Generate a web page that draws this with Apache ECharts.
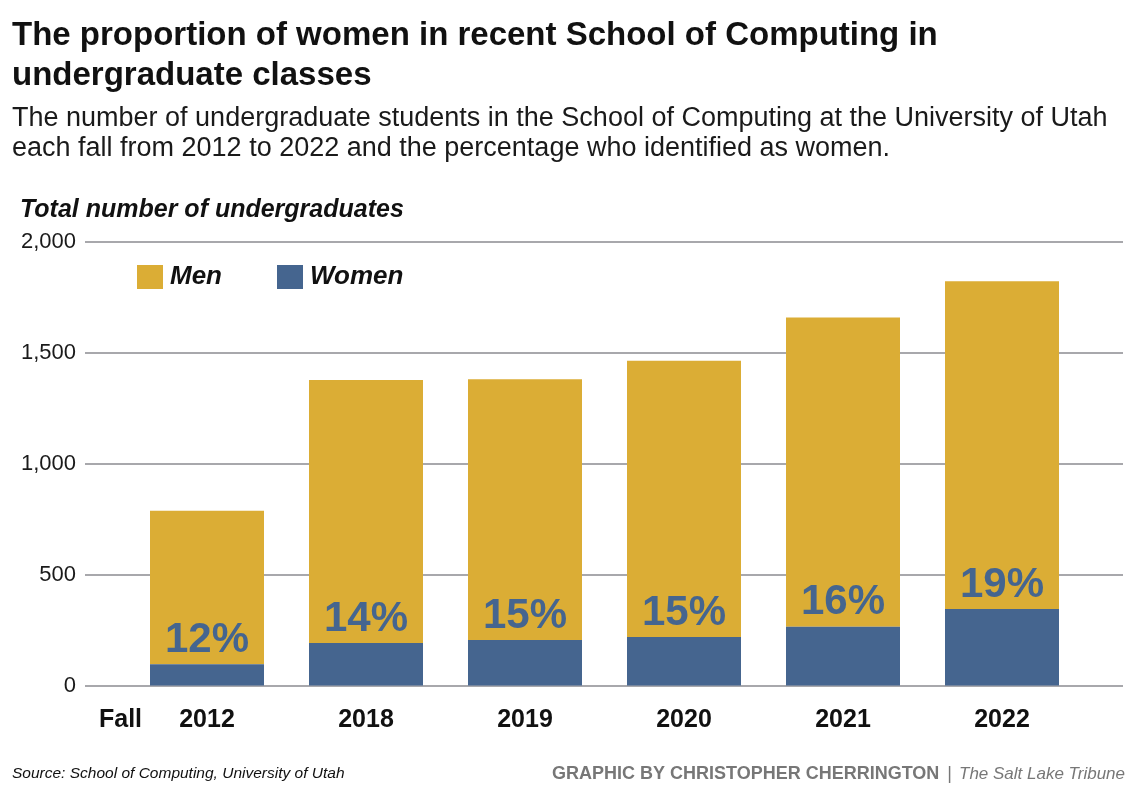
<!DOCTYPE html>
<html>
<head>
<meta charset="utf-8">
<script src="https://cdn.jsdelivr.net/npm/echarts@6/dist/echarts.min.js"></script>
<style>
  html, body { margin: 0; padding: 0; background: #ffffff; }
  #chart { width: 1137px; height: 798px; }
</style>
</head>
<body>
<div id="chart"></div>
<script>
// ---- Data ----
const years = ['2012', '2018', '2019', '2020', '2021', '2022'];
const women = [96, 192, 205, 219, 265, 345];
const men = [692, 1186, 1176, 1246, 1394, 1478];
const pctWomen = [12, 14, 15, 15, 16, 19];
const yTicks = [0, 500, 1000, 1500, 2000];

const GOLD = '#dbad35';
const BLUE = '#45658f';
const GRID_LINE = '#a8a8ac';
const SANS = '"Liberation Sans", Arial, sans-serif';

const chart = echarts.init(document.getElementById('chart'), null, { renderer: 'canvas' });

const option = {
  backgroundColor: '#ffffff',
  animation: false,
  title: [
    {
      text: 'The proportion of women in recent School of Computing in\nundergraduate classes',
      left: 12, top: 16, padding: 0,
      textStyle: { fontFamily: SANS, fontWeight: 'bold', fontSize: 33, lineHeight: 40, color: '#111111' }
    },
    {
      text: 'The number of undergraduate students in the School of Computing at the University of Utah\neach fall from 2012 to 2022 and the percentage who identified as women.',
      left: 12, top: 104, padding: 0,
      textStyle: { fontFamily: SANS, fontWeight: 'normal', fontSize: 27, lineHeight: 30, color: '#1a1a1a' }
    },
    {
      text: 'Total number of undergraduates',
      left: 20, top: 198, padding: 0,
      textStyle: { fontFamily: SANS, fontWeight: 'bold', fontStyle: 'italic', fontSize: 25, color: '#111111' }
    }
  ],
  legend: {
    data: ['Men', 'Women'],
    left: 137, top: 264, padding: 0,
    itemWidth: 26, itemHeight: 24, itemGap: 55,
    icon: 'rect',
    textStyle: { fontFamily: SANS, fontWeight: 'bold', fontStyle: 'italic', fontSize: 26, color: '#111111', padding: [0, 0, 0, 2] },
    selectedMode: false
  },
  grid: [
    { left: 127.5, right: 55.5, top: 242, bottom: 112.5, containLabel: false },
    { left: 85, right: 14, top: 242, bottom: 112.5, containLabel: false }
  ],
  xAxis: [
    {
      type: 'category', gridIndex: 0, data: years,
      axisLine: { show: false }, axisTick: { show: false },
      axisLabel: { fontFamily: SANS, fontWeight: 'bold', fontSize: 25, color: '#111111', margin: 22 }
    },
    {
      type: 'category', gridIndex: 1, data: [], show: false
    }
  ],
  yAxis: [
    {
      type: 'value', gridIndex: 0, min: 0, max: 2000, interval: 500, show: false,
      splitLine: { show: false }
    },
    {
      type: 'value', gridIndex: 1, min: 0, max: 2000, interval: 500, z: 0,
      axisLine: { show: false }, axisTick: { show: false },
      axisLabel: {
        fontFamily: SANS, fontSize: 22, color: '#1a1a1a', margin: 9,
        formatter: function (v) { return yTicks.indexOf(v) >= 0 ? v.toLocaleString('en-US') : ''; }
      },
      splitLine: { show: true, lineStyle: { color: GRID_LINE, width: 2 } }
    }
  ],
  series: [
    {
      name: 'Women', type: 'bar', stack: 'total', xAxisIndex: 0, yAxisIndex: 0,
      data: women, barWidth: 114, itemStyle: { color: BLUE }, z: 3,
      label: {
        show: true, position: 'top', distance: 3,
        fontFamily: SANS, fontWeight: 'bold', fontSize: 42, color: BLUE,
        formatter: function (p) { return pctWomen[p.dataIndex] + '%'; }
      }
    },
    {
      name: 'Men', type: 'bar', stack: 'total', xAxisIndex: 0, yAxisIndex: 0,
      data: men, barWidth: 114, itemStyle: { color: GOLD }, z: 2
    }
  ],
  graphic: [
    {
      type: 'text', left: 99, top: 708,
      style: { text: 'Fall', font: 'bold 25px ' + SANS, fill: '#111111' }
    },
    {
      type: 'text', left: 12, top: 766,
      style: { text: 'Source: School of Computing, University of Utah', font: 'italic 15.5px ' + SANS, fill: '#111111' }
    },
    {
      type: 'text', right: 12, top: 765,
      style: {
        rich: {
          a: { font: 'bold 18px ' + SANS, fill: '#777777' },
          b: { font: '18px ' + SANS, fill: '#777777', padding: [0, 7, 0, 8] },
          c: { font: 'italic 17px ' + SANS, fill: '#777777' }
        },
        text: '{a|GRAPHIC BY CHRISTOPHER CHERRINGTON}{b||}{c|The Salt Lake Tribune}'
      }
    }
  ]
};

chart.setOption(option);
</script>
</body>
</html>
